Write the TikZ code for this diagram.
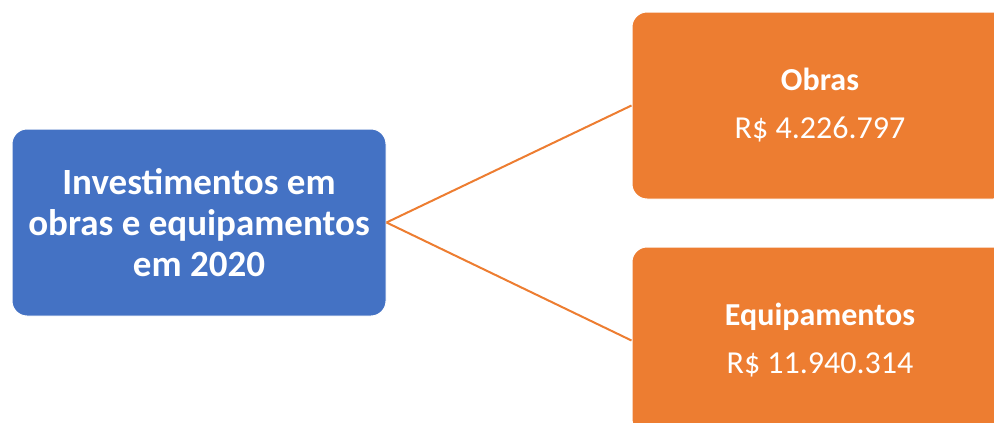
\documentclass[tikz,border=0pt]{standalone}
\usepackage{fontspec}
\setmainfont{Carlito}
\definecolor{boxblue}{HTML}{4472C4}
\definecolor{boxorange}{HTML}{ED7D31}
\begin{document}
\begin{tikzpicture}[x=1pt,y=-1pt,
  card/.style={draw=white,line width=1pt,rounded corners=15pt,text=white,align=center,inner sep=0pt},
  link/.style={draw=boxorange,line width=2pt}]
\useasboundingbox (0,0) rectangle (994,423);
\clip (0,0) rectangle (994,423);
\node[card,fill=boxblue,minimum width=374pt,minimum height=187pt,
  font=\fontsize{37}{41}\selectfont\bfseries] (main) at (199,222.5)
  {Investimentos em\\obras e equipamentos\\em 2020};
\node[card,fill=boxorange,minimum width=376pt,minimum height=187pt,
  font=\fontsize{32}{48}\selectfont] (obras) at (820,105.5)
  {\textbf{Obras}\\R\$ 4.226.797};
\node[card,fill=boxorange,minimum width=376pt,minimum height=187pt,
  font=\fontsize{32}{48}\selectfont] (equip) at (820,340.5)
  {\textbf{Equipamentos}\\R\$ 11.940.314};
\draw[link] (main.east) -- (obras.west);
\draw[link] (main.east) -- (equip.west);
\end{tikzpicture}
\end{document}
